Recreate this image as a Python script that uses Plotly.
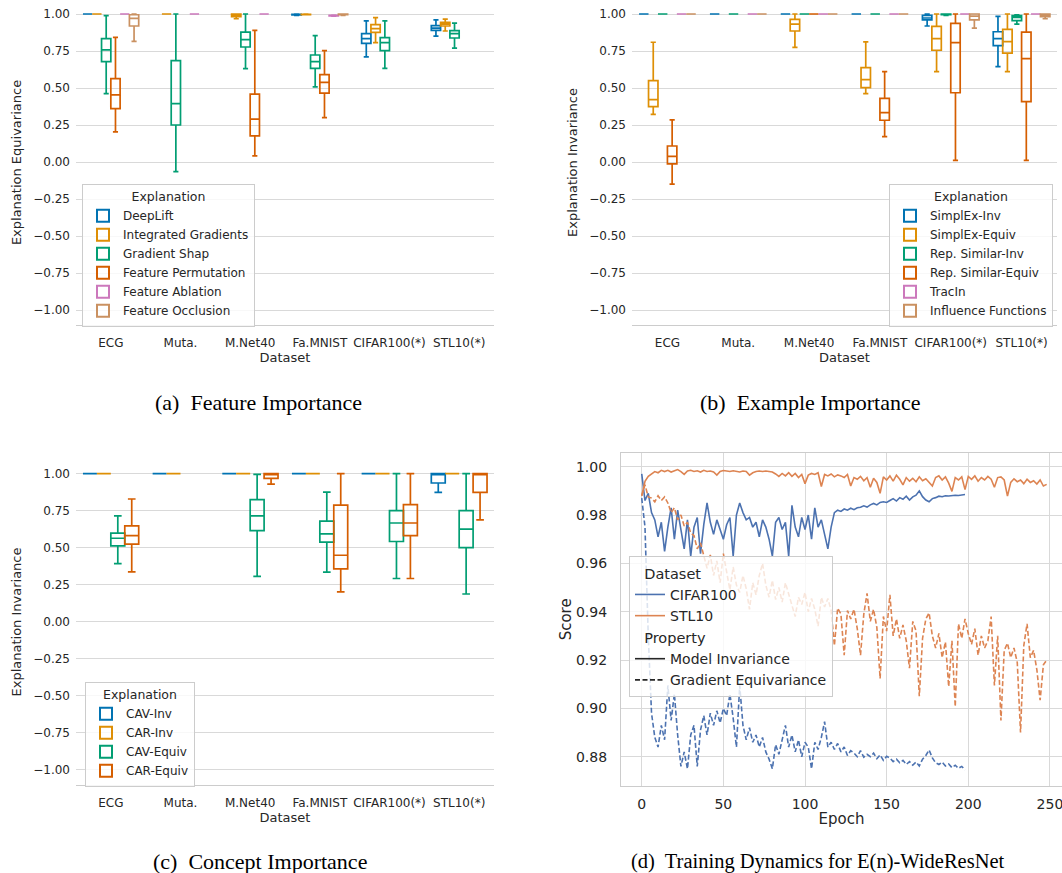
import plotly.graph_objects as go

W, H = 1062, 873

CATEGORIES = ["ECG", "Muta.", "M.Net40", "Fa.MNIST", "CIFAR100(*)", "STL10(*)"]
Y_TICKS = [-1.0, -0.75, -0.5, -0.25, 0.0, 0.25, 0.5, 0.75, 1.0]
PALETTE = ["#0173B2", "#DE8F05", "#029E73", "#D55E00", "#CC78BC", "#CA9161"]

# box stats per dataset: (lower whisker, q1, median, q3, upper whisker); None = not evaluated
ONE = (1.0, 1.0, 1.0, 1.0, 1.0)

# (a) Feature Importance
A_HUES = ["DeepLift", "Integrated Gradients", "Gradient Shap", "Feature Permutation",
          "Feature Ablation", "Feature Occlusion"]
A_DEEPLIFT = [ONE, None, None, (0.99, 0.994, 0.996, 0.997, 0.999),
              (0.71, 0.802, 0.833, 0.867, 0.953), (0.851, 0.89, 0.905, 0.921, 0.96)]
A_INTGRAD = [ONE, ONE, (0.968, 0.982, 0.993, 1.0, 1.0), (0.995, 0.996, 0.997, 0.998, 1.0),
             (0.806, 0.876, 0.901, 0.928, 0.975), (0.885, 0.919, 0.932, 0.944, 0.966)]
A_GRADSHAP = [(0.462, 0.678, 0.757, 0.833, 0.989), (-0.065, 0.25, 0.394, 0.685, 1.0),
              (0.631, 0.777, 0.827, 0.878, 1.0), (0.507, 0.633, 0.678, 0.723, 0.854),
              (0.633, 0.752, 0.806, 0.84, 0.953), (0.77, 0.838, 0.867, 0.887, 0.939)]
A_FEATPERM = [(0.203, 0.36, 0.453, 0.563, 0.842), None, (0.041, 0.176, 0.29, 0.459, 0.89),
              (0.30, 0.466, 0.538, 0.59, 0.752), None, None]
A_FEATABL = [ONE, ONE, ONE, (0.985, 0.988, 0.99, 0.991, 0.993), None, None]
A_FEATOCC = [(0.815, 0.919, 0.97, 0.995, 1.0), None, None, (0.99, 0.995, 0.997, 0.999, 1.0), None, None]

# (b) Example Importance
B_HUES = ["SimplEx-Inv", "SimplEx-Equiv", "Rep. Similar-Inv", "Rep. Similar-Equiv",
          "TracIn", "Influence Functions"]
B_SIMPLEX_INV = [ONE, ONE, ONE, ONE, (0.919, 0.96, 0.973, 0.991, 1.0), (0.644, 0.786, 0.833, 0.88, 0.984)]
B_SIMPLEX_EQ = [(0.322, 0.374, 0.421, 0.55, 0.809), None, (0.775, 0.885, 0.932, 0.964, 1.0),
                (0.462, 0.502, 0.556, 0.637, 0.811), (0.61, 0.755, 0.833, 0.917, 1.0),
                (0.61, 0.736, 0.813, 0.896, 1.0)]
B_REPSIM_INV = [ONE, ONE, ONE, ONE, (0.99, 0.995, 0.998, 1.0, 1.0), (0.932, 0.955, 0.977, 0.989, 0.995)]
B_REPSIM_EQ = [(-0.149, -0.013, 0.038, 0.108, 0.284), None, ONE, (0.171, 0.282, 0.333, 0.43, 0.61),
               (0.011, 0.468, 0.806, 0.937, 1.0), (0.011, 0.408, 0.698, 0.878, 1.0)]
B_TRACIN = [ONE, ONE, ONE, ONE, ONE, ONE]
B_INFLUENCE = [ONE, ONE, ONE, ONE, (0.905, 0.96, 0.986, 1.0, 1.0), (0.968, 0.982, 0.991, 1.0, 1.0)]

# (c) Concept Importance
C_HUES = ["CAV-Inv", "CAR-Inv", "CAV-Equiv", "CAR-Equiv"]
C_CAV_INV = [ONE, ONE, ONE, ONE, ONE, (0.874, 0.937, 1.0, 1.0, 1.0)]
C_CAR_INV = [ONE, ONE, ONE, ONE, ONE, ONE]
C_CAV_EQ = [(0.393, 0.512, 0.564, 0.598, 0.715), None, (0.306, 0.616, 0.715, 0.825, 0.996),
            (0.335, 0.537, 0.593, 0.679, 0.876), (0.292, 0.542, 0.667, 0.75, 1.0),
            (0.187, 0.5, 0.625, 0.75, 1.0)]
C_CAR_EQ = [(0.337, 0.524, 0.582, 0.647, 0.829), None, (0.93, 0.969, 1.0, 1.0, 1.0),
            (0.202, 0.357, 0.449, 0.787, 1.0), (0.292, 0.582, 0.667, 0.791, 1.0),
            (0.688, 0.874, 1.0, 1.0, 1.0)]

# (d) Training dynamics (every 2nd epoch)
CIFAR_EPOCHS = list(range(0, 200, 2))
STL_EPOCHS = list(range(0, 250, 2))
CIFAR_INV = [0.997, 0.986, 0.989, 0.981, 0.978, 0.971, 0.977, 0.965, 0.975, 0.983,
             0.970, 0.982, 0.974, 0.966, 0.978, 0.963, 0.975, 0.979, 0.964, 0.976,
             0.985, 0.977, 0.972, 0.978, 0.974, 0.970, 0.976, 0.979, 0.963, 0.980,
             0.985, 0.981, 0.978, 0.979, 0.975, 0.977, 0.971, 0.978, 0.975, 0.970,
             0.963, 0.977, 0.979, 0.974, 0.977, 0.963, 0.984, 0.975, 0.971, 0.979,
             0.974, 0.980, 0.970, 0.983, 0.975, 0.978, 0.972, 0.966, 0.975, 0.981,
             0.9820, 0.9815, 0.9825, 0.9820, 0.9828, 0.9822, 0.9830, 0.9832, 0.9838, 0.9833,
             0.9842, 0.9848, 0.9842, 0.9852, 0.9855, 0.9852, 0.9860, 0.9868, 0.9858, 0.9872,
             0.9865, 0.9878, 0.9862, 0.9875, 0.9882, 0.9900, 0.9876, 0.9862, 0.9855, 0.9868,
             0.9872, 0.9878, 0.9876, 0.9880, 0.9879, 0.9881, 0.9882, 0.9881, 0.9883, 0.9885]
STL_INV = [0.988, 0.994, 0.996, 0.997, 0.998, 0.9975, 0.9985, 0.998, 0.9985, 0.9978,
           0.9982, 0.9988, 0.998, 0.9968, 0.9982, 0.9985, 0.998, 0.9983, 0.9978, 0.9985,
           0.998, 0.9982, 0.9978, 0.9965, 0.998, 0.9984, 0.9982, 0.998, 0.9983, 0.998,
           0.9978, 0.9982, 0.998, 0.9965, 0.9975, 0.998, 0.9982, 0.998, 0.9982, 0.998,
           0.9978, 0.997, 0.996, 0.9972, 0.9962, 0.9975, 0.996, 0.9972, 0.9955, 0.9968,
           0.993, 0.9965, 0.9972, 0.9968, 0.9975, 0.9918, 0.9968, 0.9962, 0.997, 0.9958,
           0.9966, 0.9962, 0.9955, 0.9968, 0.992, 0.9955, 0.9948, 0.996, 0.9942, 0.9955,
           0.9915, 0.9952, 0.9935, 0.989, 0.9958, 0.9945, 0.9962, 0.994, 0.9965, 0.9948,
           0.9925, 0.9955, 0.994, 0.9952, 0.9938, 0.9958, 0.9942, 0.995, 0.9935, 0.992,
           0.9955, 0.9962, 0.9945, 0.9958, 0.9932, 0.9898, 0.9955, 0.9945, 0.9958, 0.9905,
           0.996, 0.9948, 0.9962, 0.994, 0.9955, 0.9945, 0.996, 0.9948, 0.9915, 0.9955,
           0.9958, 0.9945, 0.9878, 0.9935, 0.995, 0.9938, 0.9945, 0.993, 0.9948, 0.9935,
           0.9942, 0.9928, 0.9945, 0.992, 0.9927]
CIFAR_EQ = [0.987, 0.975, 0.930, 0.898, 0.888, 0.884, 0.893, 0.887, 0.9095, 0.895,
            0.906, 0.889, 0.876, 0.882, 0.875, 0.889, 0.893, 0.876, 0.891, 0.897,
            0.889, 0.898, 0.893, 0.899, 0.894, 0.900, 0.897, 0.906, 0.896, 0.884,
            0.9095, 0.893, 0.887, 0.892, 0.886, 0.889, 0.884, 0.888, 0.882, 0.879,
            0.875, 0.885, 0.881, 0.887, 0.893, 0.884, 0.889, 0.882, 0.887, 0.880,
            0.886, 0.884, 0.875, 0.886, 0.883, 0.888, 0.8945, 0.884, 0.886, 0.883,
            0.8855, 0.882, 0.884, 0.8805, 0.8825, 0.8815, 0.880, 0.8825, 0.8798, 0.881,
            0.880, 0.8815, 0.8792, 0.8808, 0.8785, 0.8802, 0.8795, 0.878, 0.879, 0.8775,
            0.8785, 0.8768, 0.878, 0.8765, 0.8778, 0.8762, 0.879, 0.8805, 0.8828, 0.8795,
            0.8775, 0.8768, 0.8778, 0.8762, 0.877, 0.8755, 0.8765, 0.8752, 0.876, 0.8745]
STL_EQ = [0.988, 0.9925, 0.9875, 0.987, 0.9855, 0.988, 0.986, 0.9875, 0.985, 0.981,
          0.983, 0.978, 0.980, 0.9755, 0.977, 0.9725, 0.9715, 0.966, 0.9685, 0.963,
          0.958, 0.9635, 0.955, 0.961, 0.952, 0.964, 0.957, 0.949, 0.9585, 0.951,
          0.948, 0.955, 0.9495, 0.941, 0.952, 0.947, 0.955, 0.960, 0.951, 0.946,
          0.953, 0.945, 0.950, 0.944, 0.952, 0.947, 0.942, 0.938, 0.946, 0.943,
          0.948, 0.940, 0.9455, 0.941, 0.934, 0.946, 0.942, 0.9455, 0.9405, 0.926,
          0.9415, 0.939, 0.922, 0.9405, 0.937, 0.941, 0.933, 0.922, 0.939, 0.9476,
          0.936, 0.941, 0.9335, 0.9124, 0.938, 0.932, 0.947, 0.930, 0.937, 0.929,
          0.9345, 0.928, 0.9166, 0.936, 0.932, 0.905, 0.929, 0.937, 0.9395, 0.930,
          0.925, 0.931, 0.921, 0.9275, 0.909, 0.928, 0.9007, 0.935, 0.929, 0.937,
          0.931, 0.9265, 0.933, 0.922, 0.930, 0.925, 0.928, 0.938, 0.9095, 0.930,
          0.895, 0.924, 0.927, 0.921, 0.925, 0.919, 0.890, 0.926, 0.935, 0.921,
          0.924, 0.916, 0.9034, 0.918, 0.920]
D_COLORS = {"CIFAR100": "#4C72B0", "STL10": "#DD8452"}

TXT = "#262626"
GRID = "#d9d9d9"
SPINE = "#cccccc"
FONT = "DejaVu Sans"

fig = go.Figure()


def add_panel(hues, series, xa, ya, legend):
    for i, (hue, stats) in enumerate(zip(hues, series)):
        xs, lo, q1, med, q3, hi = [], [], [], [], [], []
        for cat, s in zip(CATEGORIES, stats):
            if s is None:
                continue
            xs.append(cat)
            lo.append(s[0]); q1.append(s[1]); med.append(s[2]); q3.append(s[3]); hi.append(s[4])
        fig.add_trace(go.Box(
            x=xs, lowerfence=lo, q1=q1, median=med, q3=q3, upperfence=hi,
            name=hue, line=dict(color=PALETTE[i], width=1.7),
            fillcolor="rgba(0,0,0,0)", boxpoints=False, whiskerwidth=0.55,
            alignmentgroup=legend, offsetgroup="%s-%d" % (legend, i),
            xaxis=xa, yaxis=ya, legend=legend, hoverinfo="skip"))


add_panel(A_HUES, [A_DEEPLIFT, A_INTGRAD, A_GRADSHAP, A_FEATPERM, A_FEATABL, A_FEATOCC],
          "x", "y", "legend")
add_panel(B_HUES, [B_SIMPLEX_INV, B_SIMPLEX_EQ, B_REPSIM_INV, B_REPSIM_EQ, B_TRACIN, B_INFLUENCE],
          "x2", "y2", "legend2")
add_panel(C_HUES, [C_CAV_INV, C_CAR_INV, C_CAV_EQ, C_CAR_EQ], "x3", "y3", "legend3")

# (d) lines
for name, ep, inv, eq in [("CIFAR100", CIFAR_EPOCHS, CIFAR_INV, CIFAR_EQ),
                          ("STL10", STL_EPOCHS, STL_INV, STL_EQ)]:
    fig.add_trace(go.Scatter(x=ep, y=inv, mode="lines", showlegend=False,
                             line=dict(color=D_COLORS[name], width=1.6),
                             xaxis="x4", yaxis="y4", hoverinfo="skip"))
    fig.add_trace(go.Scatter(x=ep, y=eq, mode="lines", showlegend=False,
                             line=dict(color=D_COLORS[name], width=1.6, dash="5px,2.5px"),
                             xaxis="x4", yaxis="y4", hoverinfo="skip"))

# legend-only entries for (d)
for name in ["CIFAR100", "STL10"]:
    fig.add_trace(go.Scatter(x=[None], y=[None], mode="lines", name=name,
                             line=dict(color=D_COLORS[name], width=1.6),
                             legendgroup="ds", legendgrouptitle=dict(text="\u00a0\u00a0Dataset"),
                             xaxis="x4", yaxis="y4", legend="legend4"))
for name, dash in [("Model Invariance", "solid"), ("Gradient Equivariance", "5px,2.5px")]:
    fig.add_trace(go.Scatter(x=[None], y=[None], mode="lines", name=name,
                             line=dict(color=TXT, width=1.6, dash=dash),
                             legendgroup="pr", legendgrouptitle=dict(text="\u00a0\u00a0Property"),
                             xaxis="x4", yaxis="y4", legend="legend4"))


def px_x(p):
    return p / W


def px_y(p):
    return (H - p) / H


def cat_xaxis(x0, x1, anchor):
    return dict(domain=[px_x(x0), px_x(x1)], anchor=anchor, type="category",
                categoryorder="array", categoryarray=CATEGORIES, range=[-0.5, 5.5],
                showgrid=False, zeroline=False, showline=True, linecolor=SPINE, linewidth=1.3,
                ticks="", ticklabelstandoff=6, tickfont=dict(family=FONT, size=12, color=TXT),
                title=dict(text="Dataset", font=dict(family=FONT, size=13, color=TXT), standoff=0),
                automargin=False, fixedrange=True)


def val_yaxis(top_px, bottom_px, y1_px, title, anchor):
    ppu = 148.0
    top = 1.0 + (y1_px - top_px) / ppu
    bot = 1.0 - (bottom_px - y1_px) / ppu
    return dict(domain=[px_y(bottom_px), px_y(top_px)], anchor=anchor, range=[bot, top],
                tickvals=Y_TICKS, ticktext=[("\u2212%.2f" % -v) if v < 0 else "%.2f" % v for v in Y_TICKS],
                showgrid=True, gridcolor=GRID, gridwidth=1.1, zeroline=False, showline=False,
                ticks="", ticklabelstandoff=5, tickfont=dict(family=FONT, size=12, color=TXT),
                title=dict(text=title, font=dict(family=FONT, size=13, color=TXT), standoff=8),
                automargin=False, fixedrange=True)


def box_legend(x, y):
    return dict(x=px_x(x), y=px_y(y), xanchor="left", yanchor="top",
                bgcolor="rgba(255,255,255,0.8)", bordercolor=SPINE, borderwidth=1,
                font=dict(family=FONT, size=12, color=TXT),
                title=dict(text="Explanation", side="top center",
                           font=dict(family=FONT, size=12.5, color=TXT)),
                itemsizing="constant", tracegroupgap=0)


fig.update_layout(
    width=W, height=H, margin=dict(l=0, r=0, t=0, b=0),
    paper_bgcolor="white", plot_bgcolor="white",
    font=dict(family=FONT, color=TXT),
    boxmode="group", boxgap=0.2, boxgroupgap=0.0,
    xaxis=cat_xaxis(76, 494, "y"),
    yaxis=val_yaxis(0, 325, 14, "Explanation Equivariance", "x"),
    xaxis2=cat_xaxis(632, 1057, "y2"),
    yaxis2=val_yaxis(0, 325, 14, "Explanation Invariance", "x2"),
    xaxis3=cat_xaxis(76, 494, "y3"),
    yaxis3=val_yaxis(459, 785, 473.7, "Explanation Invariance", "x3"),
    xaxis4=dict(domain=[px_x(621), 1.0], anchor="y4", range=[-12.7, 257.4],
                tickvals=[0, 50, 100, 150, 200, 250], showgrid=True, gridcolor=GRID, gridwidth=1.1,
                zeroline=False, showline=True, mirror=True, linecolor=SPINE, linewidth=1.3,
                ticks="", ticklabelstandoff=5, ticklabeloverflow="allow",
                tickfont=dict(family=FONT, size=14, color=TXT),
                title=dict(text="Epoch", font=dict(family=FONT, size=15, color=TXT), standoff=2),
                automargin=False, fixedrange=True),
    yaxis4=dict(domain=[px_y(786), px_y(452.7)], anchor="x4",
                range=[1 - (786 - 466.7) / 2417.0, 1 + (466.7 - 452.7) / 2417.0],
                tickvals=[0.88, 0.90, 0.92, 0.94, 0.96, 0.98, 1.00], tickformat=".2f",
                showgrid=True, gridcolor=GRID, gridwidth=1.1, zeroline=False,
                showline=True, linecolor=SPINE, linewidth=1.3,
                ticks="", ticklabelstandoff=10, tickfont=dict(family=FONT, size=14, color=TXT),
                title=dict(text="Score", font=dict(family=FONT, size=15, color=TXT), standoff=0),
                automargin=False, fixedrange=True),
    legend=box_legend(82, 184),
    legend2=box_legend(889, 184),
    legend3=dict(box_legend(85, 682)),
    legend4=dict(x=px_x(629), y=px_y(556), xanchor="left", yanchor="top",
                 bgcolor="rgba(255,255,255,0.8)", bordercolor=SPINE, borderwidth=1,
                 font=dict(family=FONT, size=14, color=TXT),
                 grouptitlefont=dict(family=FONT, size=14.5, color=TXT),
                 tracegroupgap=0),
)

CAPTIONS = [("(a)\u00a0 Feature Importance", 258, 402, 22),
            ("(b)\u00a0 Example Importance", 810, 402, 22),
            ("(c)\u00a0 Concept Importance", 260, 861, 22),
            ("(d)\u00a0 Training Dynamics for E(n)-WideResNet", 818, 861, 20.5)]
for text, cx, cy, fs in CAPTIONS:
    fig.add_annotation(text=text, x=px_x(cx), y=px_y(cy), xref="paper", yref="paper",
                       showarrow=False, xanchor="center", yanchor="middle",
                       font=dict(family="Liberation Serif", size=fs, color="black"))

fig.write_html("out.html")
